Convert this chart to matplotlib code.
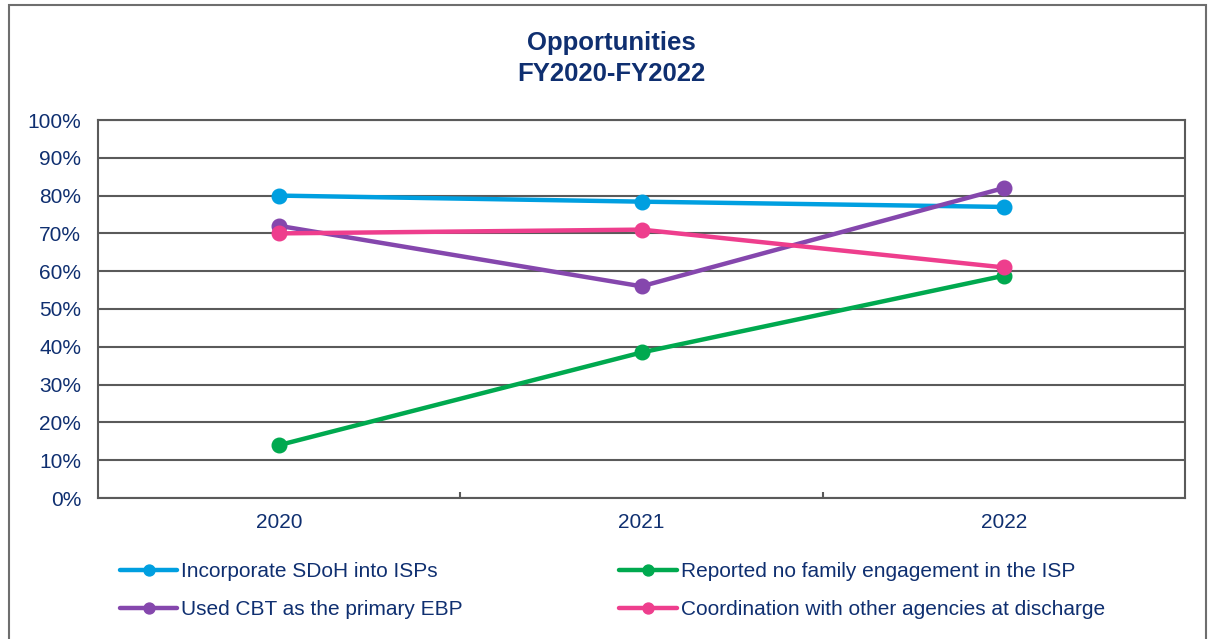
import matplotlib
matplotlib.use('Agg')
import matplotlib.pyplot as plt
import matplotlib.patches as mpatches
import numpy as np

plt.rcParams.update({
    'font.family': ['Liberation Sans', 'DejaVu Sans'],
    'axes.unicode_minus': False,
})

# data
years = ['2020', '2021', '2022']
sdoh = [80.0, 78.4, 77.0]
no_family = [14.0, 38.5, 58.8]
cbt = [72.0, 56.0, 82.0]
coordination = [70.0, 71.0, 61.0]

series = [
    ('Incorporate SDoH into ISPs', sdoh, '#009FE0'),
    ('Used CBT as the primary EBP', cbt, '#8547AD'),
    ('Reported no family engagement in the ISP', no_family, '#00A94F'),
    ('Coordination with other agencies at discharge', coordination, '#EE3E8D'),
]

C_TEXT = '#0F2F70'
C_LINE = '#5A5A5A'

W, H = 1210, 639
fig = plt.figure(figsize=(W / 100, H / 100), dpi=100)

# outer chart border
fig.patches.append(mpatches.Rectangle((9 / W, -0.1), (1206 - 9) / W, 1.1 - 5 / H,
                                      transform=fig.transFigure, fill=False,
                                      edgecolor='#6E6E6E', linewidth=1.5))

ax = fig.add_axes([98 / W, 1 - 498 / H, (1185 - 98) / W, (498 - 120) / H])

x = np.arange(len(years))
handles = []
for label, vals, color in series:
    h, = ax.plot(x, vals, '-o', color=color, linewidth=3.2, markersize=10.5,
                 label=label, zorder=5, solid_capstyle='round')
    handles.append(h)

ax.set_xlim(-0.5, len(years) - 0.5)
ax.set_ylim(0, 100)
ax.set_yticks(np.arange(0, 101, 10))
ax.set_yticklabels([f'{v}%' for v in range(0, 101, 10)])
ax.set_xticks(x)
ax.set_xticklabels(years)
ax.set_xticks([0.5, 1.5], minor=True)
ax.tick_params(axis='x', which='major', length=0, pad=11, labelsize=15, labelcolor=C_TEXT)
ax.tick_params(axis='x', which='minor', direction='in', length=4, width=1.5, color=C_LINE)
ax.tick_params(axis='y', length=0, pad=12, labelsize=15, labelcolor=C_TEXT)
ax.grid(True, axis='y', color=C_LINE, linewidth=1.5, zorder=1)
ax.set_axisbelow(True)
for s in ax.spines.values():
    s.set_color(C_LINE)
    s.set_linewidth(1.5)

fig.text(611 / W, 1 - 43 / H, 'Opportunities', ha='center', va='center',
         fontsize=18.5, fontweight='bold', color=C_TEXT)
fig.text(611 / W, 1 - 74 / H, 'FY2020-FY2022', ha='center', va='center',
         fontsize=18.5, fontweight='bold', color=C_TEXT)

leg = fig.legend(handles=handles, loc='upper left', bbox_to_anchor=(120 / W, 1 - 562 / H),
                 ncol=2, frameon=False, fontsize=15, borderpad=0, borderaxespad=0,
                 handlelength=2.75, handletextpad=0.2, columnspacing=7.5,
                 labelspacing=0.92, markerscale=0.75)
for t in leg.get_texts():
    t.set_color(C_TEXT)

fig.savefig('out.png', dpi=100, facecolor='white')
